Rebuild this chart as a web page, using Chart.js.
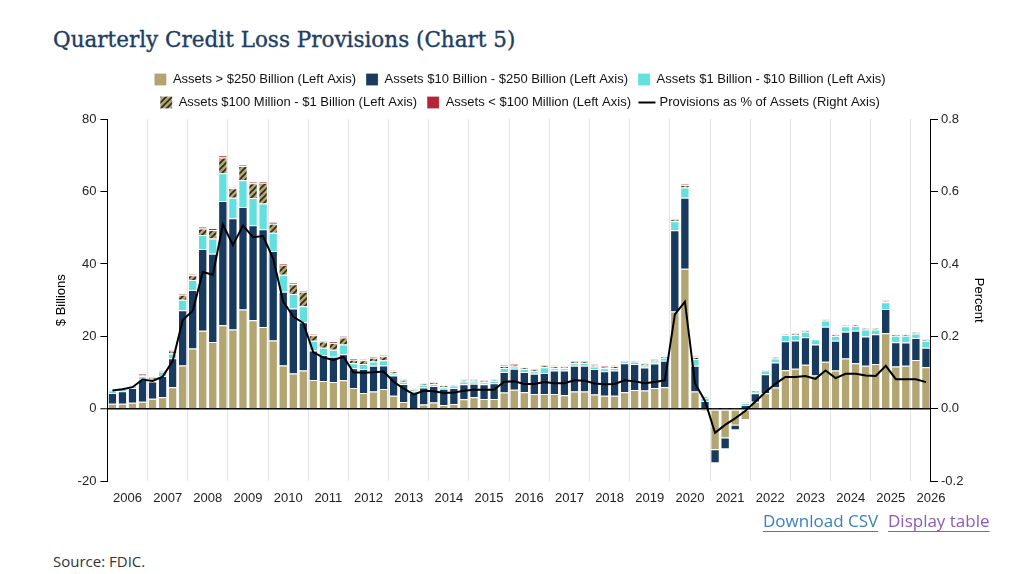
<!DOCTYPE html>
<html>
<head>
<meta charset="utf-8">
<script src="https://cdn.jsdelivr.net/npm/chart.js@4.4.1/dist/chart.umd.min.js"></script>
<style>
  html, body { margin: 0; padding: 0; background: #fff; width: 1024px; height: 574px; overflow: hidden; }
  #title { position: absolute; left: 53px; top: 25px; margin: 0; font-family: "DejaVu Serif", serif; font-weight: normal; font-size: 21.5px; line-height: 30px; color: #1d3d63; white-space: nowrap; -webkit-text-stroke: 0.35px #1d3d63; }
  #wrap { position: absolute; left: 50px; top: 63px; width: 940px; height: 452px; }
  .lnk { position: absolute; top: 509px; font-family: "Open Sans", sans-serif; font-size: 17px; line-height: 24px; text-decoration: underline; text-underline-offset: 4px; }
  #csv { left: 763px; color: #3a7fc0; }
  #tbl { left: 888px; color: #8b5cb8; }
  #src { position: absolute; left: 53px; top: 551px; font-family: "Open Sans", sans-serif; font-size: 15px; color: #333; }
</style>
</head>
<body>
<h1 id="title">Quarterly Credit Loss Provisions (Chart 5)</h1>
<div id="wrap"><canvas id="chart"></canvas></div>
<span class="lnk" id="csv">Download CSV</span>
<span class="lnk" id="tbl">Display table</span>
<div id="src">Source: FDIC.</div>
<script>
// anni e trimestri (2006 Q1 - 2026 Q2)
const years = [2006, 2007, 2008, 2009, 2010, 2011, 2012, 2013, 2014, 2015, 2016, 2017, 2018, 2019, 2020, 2021, 2022, 2023, 2024, 2025, 2026];
const quarters = years.flatMap(y => ['Q1', 'Q2', 'Q3', 'Q4'].map(q => y + ' ' + q)).slice(0, 82);
const yearTicks = [2006.5, 2007.5, 2008.5, 2009.5, 2010.5, 2011.5, 2012.5, 2013.5, 2014.5, 2015.5, 2016.5, 2017.5, 2018.5, 2019.5, 2020.5, 2021.5, 2022.5, 2023.5, 2024.5, 2025.5, 2026.5];

// $ miliardi per classe di attivo
const assetsOver250B = [
  1.4, 1.4, 1.7, 1.95, 2.8, 3.2, 6.0, 12.0, 16.7, 21.6,
  18.5, 23.1, 21.9, 27.4, 24.5, 22.6, 18.9, 12.0, 9.8, 10.6,
  8.0, 7.7, 7.4, 7.9, 5.8, 4.4, 4.8, 5.5, 3.6, 1.9,
  -0.4, 1.25, 1.8, 1.05, 1.35, 2.65, 3.2, 2.75, 2.75, 4.5,
  5.3, 4.6, 4.1, 4.1, 4.1, 3.8, 4.8, 4.8, 4.0, 3.6,
  3.6, 4.6, 5.2, 5.1, 5.8, 6.0, 26.9, 38.7, 4.8, -0.5,
  -11.1, -7.9, -4.4, -2.8, 2.0, 4.35, 5.9, 10.7, 11.1, 12.2,
  9.2, 13.0, 10.6, 13.9, 12.6, 11.9, 12.4, 20.9, 11.7, 11.9,
  13.5, 11.5
];
const assets10to250B = [
  3.0, 3.5, 4.1, 6.15, 4.8, 5.9, 8.0, 15.2, 16.1, 22.5,
  24.3, 34.3, 30.7, 28.3, 26.2, 27.0, 24.7, 20.3, 17.9, 13.3,
  8.1, 7.2, 7.0, 7.2, 5.4, 6.6, 7.1, 6.5, 5.6, 5.0,
  4.4, 4.65, 4.5, 4.5, 4.4, 4.15, 3.75, 4.05, 4.3, 5.7,
  5.8, 5.6, 5.6, 5.8, 6.5, 6.8, 7.1, 7.1, 7.0, 6.8,
  7.0, 8.0, 7.2, 6.3, 6.7, 7.3, 22.4, 19.6, 7.1, 2.2,
  -3.7, -3.0, -1.3, 1.1, 2.3, 5.25, 6.9, 8.0, 7.8, 7.6,
  8.6, 9.7, 8.2, 7.4, 9.0, 8.1, 8.2, 6.7, 6.7, 6.4,
  6.1, 5.4
];
const assets1to10B = [
  0.7, 0.6, 0.7, 0.9, 0.7, 1.2, 1.3, 2.9, 2.8, 3.9,
  4.2, 7.6, 5.7, 7.4, 7.5, 7.1, 5.0, 4.7, 4.0, 4.4,
  2.7, 2.0, 1.9, 2.7, 1.4, 1.4, 1.2, 1.4, 0.6, 0.6,
  0.6, 0.8, 0.6, 0.5, 0.7, 0.75, 0.6, 0.55, 0.7, 1.1,
  0.6, 0.8, 0.7, 1.6, 0.6, 0.6, 0.7, 0.8, 0.7, 0.8,
  0.7, 0.5, 0.7, 0.6, 0.6, 0.8, 2.5, 2.8, 1.9, 0.9,
  0.1, 0.1, 0.1, 0.5, 0.4, 1.0, 1.1, 1.7, 1.5, 1.5,
  1.4, 1.7, 1.3, 1.5, 1.3, 1.9, 1.3, 1.8, 1.8, 1.9,
  1.2, 1.9
];
const assets100Mto1B = [
  0.15, 0.1, 0.25, 0.35, 0.4, 0.3, 0.8, 1.4, 1.3, 1.8,
  2.4, 4.4, 2.6, 3.9, 4.1, 5.7, 2.5, 2.8, 2.7, 4.0,
  1.5, 1.7, 1.9, 1.9, 1.0, 1.0, 1.0, 1.1, 0.6, 0.5,
  0.3, 0.3, 0.4, 0.4, 0.35, 0.4, 0.4, 0.4, 0.35, 0.55,
  0.5, 0.5, 0.5, 0.5, 0.6, 0.5, 0.5, 0.4, 0.4, 0.4,
  0.5, 0.3, 0.3, 0.5, 0.4, 0.4, 0.5, 0.7, 0.5, 0.3,
  0.1, 0.1, 0.1, 0.2, 0.2, 0.2, 0.4, 0.2, 0.3, 0.3,
  0.2, 0.3, 0.3, 0.3, 0.3, 0.4, 0.4, 0.4, 0.4, 0.4,
  0.4, 0.3
];
const assetsUnder100M = [
  0.05, 0.05, 0.05, 0.35, 0.15, 0.2, 0.3, 0.35, 0.3, 0.5,
  0.5, 0.6, 0.2, 0.3, 0.4, 0.5, 0.5, 0.4, 0.4, 0.4,
  0.4, 0.3, 0.4, 0.4, 0.4, 0.3, 0.3, 0.4, 0.2, 0.1,
  0.15, 0.15, 0.1, 0.1, 0.1, 0.15, 0.15, 0.15, 0.15, 0.2,
  0.2, 0.2, 0.2, 0.2, 0.2, 0.2, 0.2, 0.2, 0.2, 0.2,
  0.2, 0.2, 0.2, 0.2, 0.2, 0.2, 0.2, 0.2, 0.2, 0.1,
  0.05, 0.05, 0.05, 0.05, 0.05, 0.05, 0.05, 0.1, 0.1, 0.1,
  0.1, 0.1, 0.1, 0.1, 0.1, 0.1, 0.1, 0.1, 0.1, 0.1,
  0.1, 0.1
];
// accantonamenti in % degli attivi (asse destro)
const provisionsPct = [
  0.051, 0.054, 0.06, 0.081, 0.077, 0.089, 0.132, 0.245, 0.271, 0.378,
  0.370, 0.509, 0.452, 0.506, 0.474, 0.477, 0.415, 0.297, 0.255, 0.237,
  0.156, 0.142, 0.135, 0.144, 0.101, 0.1, 0.101, 0.103, 0.075, 0.056,
  0.04, 0.05, 0.049, 0.044, 0.045, 0.05, 0.053, 0.053, 0.053, 0.075,
  0.076, 0.069, 0.069, 0.074, 0.071, 0.071, 0.079, 0.078, 0.07, 0.068,
  0.069, 0.079, 0.076, 0.071, 0.074, 0.079, 0.261, 0.296, 0.071, 0.022,
  -0.066, -0.044, -0.026, -0.006, 0.02, 0.046, 0.069, 0.088, 0.088, 0.091,
  0.083, 0.106, 0.085, 0.097, 0.097, 0.092, 0.091, 0.119, 0.082, 0.082,
  0.082, 0.074
];

const tan = '#b3a572';
const navy = '#173a5e';
const cyan = '#63dfe0';
const red = '#b5253a';

// motivo tratteggiato per la classe $100M - $1B
function hatchPattern() {
  const c = document.createElement('canvas');
  c.width = 6; c.height = 6;
  const g = c.getContext('2d');
  g.fillStyle = tan;
  g.fillRect(0, 0, 6, 6);
  g.strokeStyle = '#2a2a22';
  g.lineWidth = 1.6;
  g.beginPath();
  g.moveTo(0, 6); g.lineTo(6, 0);
  g.moveTo(-3, 3); g.lineTo(3, -3);
  g.moveTo(3, 9); g.lineTo(9, 3);
  g.stroke();
  return g.createPattern(c, 'repeat');
}

function barSet(label, data, color) {
  return {
    label: label,
    data: data,
    backgroundColor: color,
    borderColor: 'rgba(255,255,255,0.85)',
    borderWidth: { top: 1, bottom: 0, left: 0, right: 0 },
    borderSkipped: false,
    stack: 'prov',
    pointStyle: 'rect',
    categoryPercentage: 0.8,
    barPercentage: 0.95
  };
}

Chart.defaults.font.family = '"Liberation Sans", Arial, sans-serif';
Chart.defaults.font.size = 13;
Chart.defaults.color = '#222';

new Chart(document.getElementById('chart'), {
  type: 'bar',
  data: {
    labels: quarters,
    datasets: [
      barSet('Assets > $250 Billion (Left Axis)', assetsOver250B, tan),
      barSet('Assets $10 Billion - $250 Billion (Left Axis)', assets10to250B, navy),
      barSet('Assets $1 Billion - $10 Billion (Left Axis)', assets1to10B, cyan),
      barSet('Assets $100 Million - $1 Billion (Left Axis)', assets100Mto1B, hatchPattern()),
      barSet('Assets < $100 Million (Left Axis)', assetsUnder100M, red),
      {
        type: 'line',
        label: 'Provisions as % of Assets (Right Axis)',
        data: provisionsPct,
        yAxisID: 'yR',
        borderColor: '#000',
        backgroundColor: '#000',
        borderWidth: 2,
        pointRadius: 0,
        pointHoverRadius: 0,
        pointStyle: 'line',
        pointBorderColor: '#000',
        pointBorderWidth: 2,
        tension: 0,
        order: -1
      }
    ]
  },
  options: {
    responsive: true,
    maintainAspectRatio: false,
    animation: false,
    layout: { padding: 0 },
    plugins: {
      tooltip: { enabled: false },
      legend: {
        position: 'top',
        labels: {
          usePointStyle: true,
          boxWidth: 12,
          boxHeight: 12,
          padding: 10,
          color: '#111',
          font: { size: 13 },
          sort: (a, b) => a.datasetIndex - b.datasetIndex
        }
      }
    },
    scales: {
      x: {
        type: 'category',
        display: false,
        stacked: true,
        offset: true
      },
      yr: {
        type: 'linear',
        position: 'bottom',
        offset: false,
        min: 2006,
        max: 2026.5,
        afterBuildTicks: axis => { axis.ticks = yearTicks.map(v => ({ value: v })); },
        ticks: {
          autoSkip: false,
          maxRotation: 0,
          padding: 9,
          color: '#222',
          callback: v => String(Math.floor(v))
        },
        grid: {
          offset: true,
          drawTicks: false,
          color: c => c.index === 0 ? 'rgba(0,0,0,0)' : '#e4e4e4',
          lineWidth: 1
        },
        border: { display: false }
      },
      y: {
        stacked: true,
        position: 'left',
        min: -20,
        max: 80,
        z: 1,
        ticks: { stepSize: 20, padding: 4, color: '#222' },
        grid: {
          drawOnChartArea: true,
          color: c => (c.tick && c.tick.value === 0) ? '#000' : 'rgba(0,0,0,0)',
          lineWidth: c => (c.tick && c.tick.value === 0) ? 1.5 : 1,
          tickColor: '#000',
          tickWidth: 1,
          tickLength: 7
        },
        border: { display: true, color: '#000', width: 1 },
        title: { display: true, text: '$ Billions', color: '#000', font: { size: 13 }, padding: 4 }
      },
      yR: {
        position: 'right',
        min: -0.2,
        max: 0.8,
        ticks: { stepSize: 0.2, padding: 3, color: '#222', callback: v => v.toFixed(1) },
        grid: { drawOnChartArea: false, tickColor: '#000', tickLength: 7 },
        border: { display: true, color: '#000', width: 1 },
        title: { display: true, text: 'Percent', color: '#000', font: { size: 13 }, padding: 4 }
      }
    }
  }
});
</script>
</body>
</html>
